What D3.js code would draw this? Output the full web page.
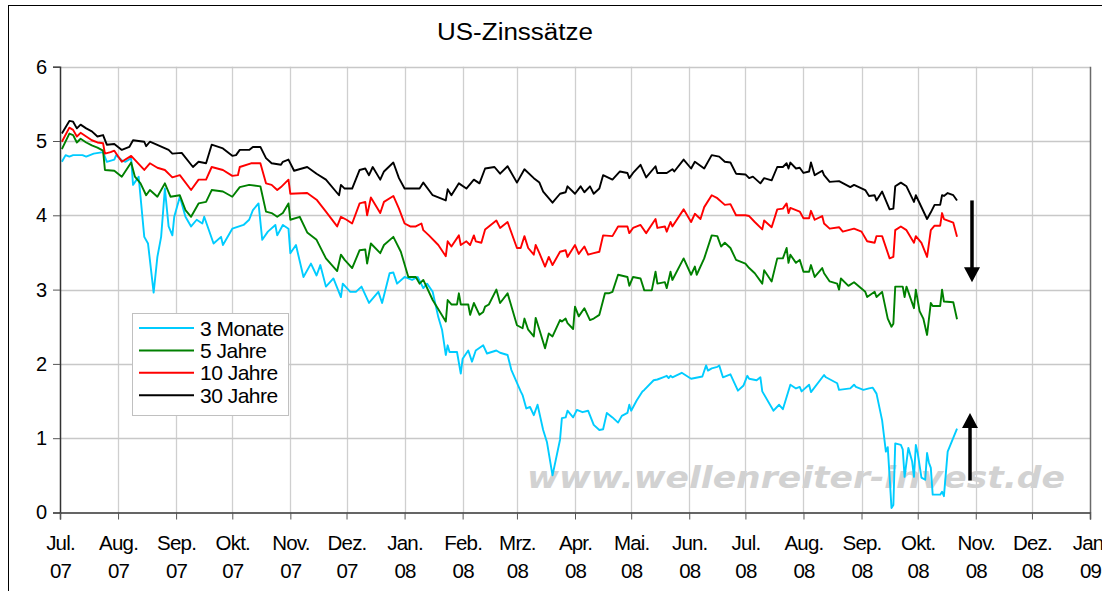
<!DOCTYPE html>
<html><head><meta charset="utf-8">
<script src="https://cdn.jsdelivr.net/npm/d3@7"></script>
<style>body{margin:0;background:#fff;overflow:hidden}</style>
</head><body>
<svg id="c" width="1102" height="591"></svg>
<script>
const titleText = "US-Zinssätze";
const seriesNames = ["3 Monate", "5 Jahre", "10 Jahre", "30 Jahre"];
const monthLabels = ["Jul.","Aug.","Sep.","Okt.","Nov.","Dez.","Jan.","Feb.","Mrz.","Apr.","Mai.","Jun.","Jul.","Aug.","Sep.","Okt.","Nov.","Dez.","Jan."];
const yearLabels = ["07","07","07","07","07","07","08","08","08","08","08","08","08","08","08","08","08","08","09"];
const yTickValues = [0,1,2,3,4,5,6];
const watermarkText = "www.wellenreiter-invest.de";

const m3 = [
["2007-07-02",4.72],["2007-07-04",4.81],["2007-07-06",4.79],["2007-07-08",4.81],["2007-07-13",4.81],["2007-07-15",4.79],["2007-07-19",4.83],["2007-07-24",4.85],["2007-07-26",4.72],["2007-07-30",4.75],["2007-07-31",4.81],["2007-08-03",4.74],["2007-08-05",4.72],["2007-08-08",4.77],["2007-08-09",4.41],["2007-08-12",4.52],["2007-08-15",3.71],["2007-08-17",3.62],["2007-08-20",2.96],["2007-08-22",3.44],["2007-08-24",3.71],["2007-08-26",4.36],["2007-08-28",3.85],["2007-08-30",3.73],["2007-08-31",3.98],["2007-09-03",4.25],["2007-09-06",3.98],["2007-09-09",3.85],["2007-09-12",3.94],["2007-09-15",3.89],["2007-09-16",3.98],["2007-09-21",3.62],["2007-09-25",3.71],["2007-09-26",3.60],["2007-10-01",3.82],["2007-10-07",3.87],["2007-10-10",3.94],["2007-10-12",4.07],["2007-10-15",4.16],["2007-10-17",3.67],["2007-10-20",3.78],["2007-10-24",3.87],["2007-10-25",3.73],["2007-10-28",3.87],["2007-10-31",3.82],["2007-11-01",3.49],["2007-11-04",3.60],["2007-11-08",3.17],["2007-11-12",3.35],["2007-11-15",3.19],["2007-11-17",3.33],["2007-11-20",3.04],["2007-11-24",3.15],["2007-11-28",2.90],["2007-11-29",3.08],["2007-12-03",2.97],["2007-12-06",2.97],["2007-12-09",3.04],["2007-12-13",2.82],["2007-12-18",2.97],["2007-12-20",2.82],["2007-12-24",3.22],["2007-12-26",3.23],["2007-12-28",3.08],["2008-01-01",3.17],["2008-01-05",3.13],["2008-01-08",3.17],["2008-01-11",3.02],["2008-01-13",3.08],["2008-01-16",2.97],["2008-01-19",2.63],["2008-01-21",2.46],["2008-01-23",2.12],["2008-01-24",2.25],["2008-01-25",2.16],["2008-01-29",2.16],["2008-01-31",1.87],["2008-02-01",2.07],["2008-02-04",2.18],["2008-02-06",2.03],["2008-02-08",2.18],["2008-02-12",2.25],["2008-02-14",2.14],["2008-02-19",2.18],["2008-02-21",2.15],["2008-02-25",2.12],["2008-02-27",1.92],["2008-03-03",1.63],["2008-03-04",1.58],["2008-03-06",1.40],["2008-03-08",1.42],["2008-03-10",1.31],["2008-03-12",1.45],["2008-03-15",1.11],["2008-03-17",0.95],["2008-03-20",0.50],["2008-03-24",0.98],["2008-03-25",1.27],["2008-03-27",1.28],["2008-03-28",1.37],["2008-03-31",1.28],["2008-04-02",1.38],["2008-04-05",1.35],["2008-04-08",1.37],["2008-04-11",1.18],["2008-04-14",1.11],["2008-04-16",1.12],["2008-04-18",1.34],["2008-04-21",1.28],["2008-04-24",1.21],["2008-04-26",1.30],["2008-04-29",1.34],["2008-04-30",1.45],["2008-05-01",1.37],["2008-05-04",1.51],["2008-05-07",1.63],["2008-05-08",1.65],["2008-05-13",1.78],["2008-05-15",1.79],["2008-05-18",1.82],["2008-05-20",1.84],["2008-05-21",1.81],["2008-05-22",1.84],["2008-05-23",1.82],["2008-05-28",1.88],["2008-06-02",1.80],["2008-06-08",1.83],["2008-06-10",1.98],["2008-06-11",1.91],["2008-06-13",1.94],["2008-06-16",1.96],["2008-06-17",1.98],["2008-06-19",1.82],["2008-06-23",1.86],["2008-06-27",1.64],["2008-06-30",1.71],["2008-07-02",1.84],["2008-07-03",1.80],["2008-07-07",1.78],["2008-07-09",1.82],["2008-07-10",1.63],["2008-07-16",1.37],["2008-07-19",1.45],["2008-07-21",1.39],["2008-07-25",1.72],["2008-07-28",1.67],["2008-07-30",1.69],["2008-07-31",1.63],["2008-08-04",1.72],["2008-08-05",1.62],["2008-08-12",1.85],["2008-08-13",1.82],["2008-08-19",1.74],["2008-08-20",1.65],["2008-08-26",1.67],["2008-08-28",1.72],["2008-08-29",1.69],["2008-09-02",1.65],["2008-09-05",1.67],["2008-09-07",1.68],["2008-09-09",1.60],["2008-09-12",1.24],["2008-09-14",0.82],["2008-09-15",0.88],["2008-09-16",0.48],["2008-09-17",0.06],["2008-09-18",0.10],["2008-09-19",0.93],["2008-09-22",0.91],["2008-09-23",0.85],["2008-09-24",0.48],["2008-09-26",0.87],["2008-09-28",0.69],["2008-09-29",0.48],["2008-09-30",0.91],["2008-10-01",0.80],["2008-10-03",0.47],["2008-10-05",0.44],["2008-10-06",0.80],["2008-10-07",0.67],["2008-10-08",0.60],["2008-10-09",0.24],["2008-10-13",0.24],["2008-10-14",0.28],["2008-10-15",0.22],["2008-10-17",0.82],["2008-10-22",1.13]
];

const y5 = [
["2007-07-02",4.89],["2007-07-06",5.10],["2007-07-08",5.08],["2007-07-10",4.98],["2007-07-12",5.03],["2007-07-15",4.98],["2007-07-18",4.94],["2007-07-21",4.91],["2007-07-24",4.87],["2007-07-25",4.61],["2007-07-30",4.60],["2007-08-03",4.52],["2007-08-08",4.71],["2007-08-10",4.52],["2007-08-13",4.43],["2007-08-16",4.27],["2007-08-18",4.34],["2007-08-22",4.25],["2007-08-26",4.43],["2007-08-29",4.25],["2007-09-03",4.27],["2007-09-06",4.07],["2007-09-09",3.98],["2007-09-13",4.16],["2007-09-17",4.18],["2007-09-20",4.34],["2007-09-26",4.32],["2007-10-01",4.25],["2007-10-05",4.38],["2007-10-10",4.41],["2007-10-16",4.39],["2007-10-19",4.05],["2007-10-22",4.03],["2007-10-25",3.98],["2007-10-28",4.03],["2007-10-31",4.16],["2007-11-01",3.94],["2007-11-06",3.98],["2007-11-10",3.77],["2007-11-15",3.67],["2007-11-20",3.42],["2007-11-26",3.25],["2007-11-28",3.47],["2007-11-30",3.40],["2007-12-04",3.29],["2007-12-08",3.53],["2007-12-11",3.54],["2007-12-12",3.35],["2007-12-14",3.62],["2007-12-19",3.49],["2007-12-21",3.60],["2007-12-26",3.71],["2007-12-30",3.51],["2008-01-03",3.17],["2008-01-07",3.17],["2008-01-09",3.08],["2008-01-11",3.13],["2008-01-16",2.86],["2008-01-23",2.57],["2008-01-24",2.86],["2008-01-26",2.80],["2008-01-29",2.80],["2008-01-30",2.95],["2008-01-31",2.80],["2008-02-04",2.80],["2008-02-05",2.66],["2008-02-07",2.82],["2008-02-10",2.66],["2008-02-12",2.70],["2008-02-13",2.77],["2008-02-15",2.80],["2008-02-19",3.00],["2008-02-21",2.82],["2008-02-25",2.95],["2008-03-01",2.52],["2008-03-04",2.48],["2008-03-05",2.61],["2008-03-07",2.46],["2008-03-10",2.37],["2008-03-11",2.62],["2008-03-13",2.46],["2008-03-16",2.21],["2008-03-18",2.41],["2008-03-20",2.37],["2008-03-24",2.59],["2008-03-25",2.57],["2008-03-27",2.61],["2008-03-28",2.55],["2008-03-31",2.47],["2008-04-01",2.77],["2008-04-03",2.64],["2008-04-06",2.75],["2008-04-09",2.59],["2008-04-11",2.61],["2008-04-14",2.66],["2008-04-17",2.95],["2008-04-19",2.95],["2008-04-21",2.97],["2008-04-24",3.20],["2008-04-29",3.17],["2008-04-30",3.05],["2008-05-02",3.17],["2008-05-06",3.15],["2008-05-08",2.99],["2008-05-12",2.99],["2008-05-14",3.24],["2008-05-15",3.08],["2008-05-19",3.10],["2008-05-20",3.02],["2008-05-22",3.24],["2008-05-23",3.13],["2008-05-29",3.42],["2008-06-02",3.20],["2008-06-04",3.31],["2008-06-05",3.20],["2008-06-09",3.42],["2008-06-13",3.73],["2008-06-16",3.72],["2008-06-18",3.58],["2008-06-20",3.63],["2008-06-23",3.56],["2008-06-26",3.40],["2008-07-01",3.35],["2008-07-03",3.29],["2008-07-06",3.22],["2008-07-10",3.08],["2008-07-11",3.26],["2008-07-15",3.11],["2008-07-18",3.42],["2008-07-21",3.42],["2008-07-23",3.56],["2008-07-24",3.36],["2008-07-25",3.47],["2008-07-28",3.36],["2008-07-30",3.40],["2008-08-01",3.24],["2008-08-04",3.24],["2008-08-05",3.33],["2008-08-07",3.17],["2008-08-11",3.29],["2008-08-12",3.22],["2008-08-15",3.11],["2008-08-19",3.08],["2008-08-20",3.00],["2008-08-21",3.15],["2008-08-25",3.05],["2008-08-28",3.10],["2008-09-03",2.97],["2008-09-04",2.90],["2008-09-08",2.97],["2008-09-09",2.90],["2008-09-12",2.97],["2008-09-15",2.61],["2008-09-17",2.50],["2008-09-18",2.54],["2008-09-19",3.04],["2008-09-23",3.04],["2008-09-24",2.90],["2008-09-25",3.04],["2008-09-29",2.75],["2008-09-30",3.00],["2008-10-02",2.71],["2008-10-04",2.61],["2008-10-06",2.39],["2008-10-08",2.82],["2008-10-09",2.78],["2008-10-13",2.78],["2008-10-14",3.00],["2008-10-15",2.84],["2008-10-20",2.83],["2008-10-22",2.60]
];

const y10 = [
["2007-07-02",4.99],["2007-07-06",5.18],["2007-07-08",5.15],["2007-07-10",5.06],["2007-07-12",5.11],["2007-07-15",5.06],["2007-07-18",5.01],["2007-07-21",4.98],["2007-07-24",4.97],["2007-07-25",4.83],["2007-07-28",4.85],["2007-07-30",4.87],["2007-08-03",4.72],["2007-08-08",4.80],["2007-08-15",4.61],["2007-08-18",4.70],["2007-08-22",4.64],["2007-08-26",4.61],["2007-08-30",4.51],["2007-09-03",4.54],["2007-09-09",4.34],["2007-09-13",4.48],["2007-09-17",4.48],["2007-09-20",4.65],["2007-09-26",4.61],["2007-10-01",4.53],["2007-10-04",4.54],["2007-10-05",4.65],["2007-10-11",4.70],["2007-10-16",4.70],["2007-10-19",4.43],["2007-10-22",4.41],["2007-10-25",4.34],["2007-10-27",4.38],["2007-10-31",4.48],["2007-11-01",4.29],["2007-11-10",4.30],["2007-11-15",4.21],["2007-11-20",4.05],["2007-11-26",3.85],["2007-11-28",3.98],["2007-12-01",3.94],["2007-12-04",3.89],["2007-12-08",4.16],["2007-12-11",4.18],["2007-12-12",4.00],["2007-12-14",4.24],["2007-12-19",4.03],["2007-12-21",4.18],["2007-12-26",4.26],["2007-12-29",4.09],["2008-01-01",3.89],["2008-01-04",3.85],["2008-01-07",3.85],["2008-01-10",3.89],["2008-01-11",3.80],["2008-01-14",3.73],["2008-01-19",3.60],["2008-01-23",3.45],["2008-01-24",3.65],["2008-01-26",3.58],["2008-01-30",3.73],["2008-01-31",3.60],["2008-02-03",3.65],["2008-02-05",3.60],["2008-02-07",3.73],["2008-02-08",3.65],["2008-02-11",3.63],["2008-02-13",3.81],["2008-02-19",3.93],["2008-02-21",3.83],["2008-02-25",3.91],["2008-03-01",3.56],["2008-03-03",3.56],["2008-03-05",3.72],["2008-03-07",3.56],["2008-03-10",3.47],["2008-03-11",3.60],["2008-03-13",3.49],["2008-03-16",3.31],["2008-03-18",3.44],["2008-03-20",3.33],["2008-03-24",3.51],["2008-03-27",3.53],["2008-03-28",3.44],["2008-04-01",3.60],["2008-04-03",3.48],["2008-04-06",3.58],["2008-04-08",3.47],["2008-04-11",3.49],["2008-04-14",3.51],["2008-04-16",3.73],["2008-04-21",3.72],["2008-04-24",3.85],["2008-04-29",3.85],["2008-04-30",3.76],["2008-05-02",3.83],["2008-05-06",3.87],["2008-05-09",3.76],["2008-05-14",3.95],["2008-05-15",3.83],["2008-05-19",3.85],["2008-05-20",3.78],["2008-05-22",3.91],["2008-05-23",3.85],["2008-05-29",4.08],["2008-06-02",3.91],["2008-06-04",4.02],["2008-06-07",3.95],["2008-06-09",4.11],["2008-06-13",4.27],["2008-06-16",4.23],["2008-06-20",4.14],["2008-06-23",4.15],["2008-06-26",4.00],["2008-07-01",4.00],["2008-07-03",3.99],["2008-07-06",3.91],["2008-07-10",3.81],["2008-07-11",3.93],["2008-07-15",3.84],["2008-07-18",4.08],["2008-07-21",4.09],["2008-07-23",4.16],["2008-07-24",4.03],["2008-07-25",4.10],["2008-07-30",4.05],["2008-08-01",3.96],["2008-08-04",3.96],["2008-08-05",4.06],["2008-08-07",3.94],["2008-08-11",3.99],["2008-08-12",3.89],["2008-08-15",3.82],["2008-08-20",3.84],["2008-08-22",3.78],["2008-08-28",3.82],["2008-09-01",3.78],["2008-09-04",3.65],["2008-09-08",3.63],["2008-09-09",3.72],["2008-09-12",3.72],["2008-09-16",3.42],["2008-09-18",3.44],["2008-09-19",3.80],["2008-09-22",3.85],["2008-09-25",3.80],["2008-09-29",3.63],["2008-09-30",3.72],["2008-10-03",3.63],["2008-10-06",3.44],["2008-10-08",3.80],["2008-10-10",3.86],["2008-10-13",3.86],["2008-10-14",4.03],["2008-10-15",3.95],["2008-10-20",3.90],["2008-10-22",3.71]
];

const y30 = [
["2007-07-02",5.10],["2007-07-06",5.27],["2007-07-08",5.26],["2007-07-10",5.17],["2007-07-12",5.22],["2007-07-15",5.17],["2007-07-18",5.13],["2007-07-21",5.06],["2007-07-24",5.08],["2007-07-26",4.95],["2007-07-30",4.96],["2007-08-03",4.88],["2007-08-07",4.92],["2007-08-09",5.01],["2007-08-15",4.99],["2007-08-16",4.93],["2007-08-18",4.99],["2007-08-28",4.88],["2007-08-30",4.83],["2007-09-04",4.84],["2007-09-10",4.65],["2007-09-13",4.72],["2007-09-17",4.70],["2007-09-20",4.95],["2007-09-26",4.90],["2007-10-01",4.80],["2007-10-03",4.81],["2007-10-05",4.88],["2007-10-10",4.88],["2007-10-12",4.92],["2007-10-16",4.92],["2007-10-19",4.77],["2007-10-22",4.70],["2007-10-27",4.68],["2007-10-28",4.72],["2007-10-31",4.75],["2007-11-03",4.60],["2007-11-10",4.65],["2007-11-15",4.56],["2007-11-20",4.48],["2007-11-27",4.27],["2007-11-28",4.41],["2007-11-30",4.36],["2007-12-04",4.36],["2007-12-08",4.61],["2007-12-11",4.63],["2007-12-13",4.54],["2007-12-15",4.65],["2007-12-19",4.48],["2007-12-21",4.59],["2007-12-26",4.71],["2007-12-29",4.50],["2008-01-01",4.36],["2008-01-09",4.36],["2008-01-11",4.44],["2008-01-16",4.27],["2008-01-23",4.20],["2008-01-24",4.35],["2008-01-26",4.27],["2008-01-30",4.43],["2008-02-03",4.36],["2008-02-07",4.48],["2008-02-10",4.43],["2008-02-13",4.63],["2008-02-18",4.65],["2008-02-21",4.56],["2008-02-25",4.66],["2008-03-01",4.44],["2008-03-05",4.62],["2008-03-10",4.50],["2008-03-13",4.44],["2008-03-15",4.32],["2008-03-20",4.17],["2008-03-24",4.29],["2008-03-27",4.31],["2008-03-28",4.39],["2008-04-01",4.29],["2008-04-04",4.39],["2008-04-06",4.31],["2008-04-09",4.39],["2008-04-11",4.29],["2008-04-14",4.36],["2008-04-16",4.54],["2008-04-21",4.48],["2008-04-25",4.59],["2008-04-29",4.57],["2008-04-30",4.50],["2008-05-02",4.57],["2008-05-06",4.68],["2008-05-09",4.51],["2008-05-14",4.66],["2008-05-15",4.57],["2008-05-20",4.57],["2008-05-23",4.62],["2008-05-24",4.59],["2008-05-29",4.75],["2008-06-02",4.63],["2008-06-04",4.72],["2008-06-09",4.63],["2008-06-13",4.81],["2008-06-17",4.79],["2008-06-20",4.72],["2008-06-23",4.71],["2008-06-26",4.56],["2008-07-01",4.55],["2008-07-03",4.50],["2008-07-05",4.52],["2008-07-09",4.43],["2008-07-11",4.50],["2008-07-15",4.47],["2008-07-18",4.65],["2008-07-21",4.65],["2008-07-23",4.70],["2008-07-24",4.63],["2008-07-25",4.71],["2008-07-28",4.63],["2008-07-30",4.64],["2008-08-01",4.57],["2008-08-04",4.59],["2008-08-05",4.71],["2008-08-07",4.54],["2008-08-11",4.60],["2008-08-12",4.54],["2008-08-15",4.45],["2008-08-20",4.46],["2008-08-26",4.38],["2008-08-28",4.41],["2008-09-03",4.34],["2008-09-05",4.26],["2008-09-08",4.27],["2008-09-09",4.20],["2008-09-12",4.32],["2008-09-16",4.08],["2008-09-18",4.09],["2008-09-19",4.39],["2008-09-22",4.44],["2008-09-25",4.39],["2008-09-29",4.18],["2008-09-30",4.27],["2008-10-06",3.95],["2008-10-08",4.04],["2008-10-10",4.14],["2008-10-13",4.14],["2008-10-14",4.27],["2008-10-15",4.26],["2008-10-17",4.30],["2008-10-20",4.27],["2008-10-22",4.20]
];

const seriesData = [m3, y5, y10, y30];
const seriesColors = ["#00ccff", "#008000", "#ff0000", "#000000"];
// arrows: [date, from value, to value]
const arrowDown = ["2008-10-30", 4.2, 3.1];
const arrowUp = ["2008-10-29", 0.43, 1.34];

const parse = d3.timeParse("%Y-%m-%d");
const svg = d3.select("#c");
const font = "'Liberation Sans', Arial, sans-serif";

// outer frame
svg.append("rect").attr("x",8.5).attr("y",5.5).attr("width",1200).attr("height",700)
  .attr("fill","none").attr("stroke","#000").attr("stroke-width",1);

const x = d3.scaleTime().domain([new Date(2007,6,1), new Date(2009,0,1)]).range([60, 1090]);
const y = d3.scaleLinear().domain([0,6]).range([512.5, 66.7]);
const months = d3.timeMonth.range(new Date(2007,6,1), new Date(2009,0,2));

// gridlines
const grid = svg.append("g");
grid.selectAll("line.v").data(months.slice(1, -1)).join("line")
  .attr("x1", d => Math.round(x(d))+0.5).attr("x2", d => Math.round(x(d))+0.5)
  .attr("y1", y(6)).attr("y2", y(0))
  .attr("stroke","#cfcfcf").attr("stroke-width",1.3);
grid.selectAll("line.h").data(yTickValues.slice(1)).join("line")
  .attr("x1", x.range()[0]).attr("x2", x.range()[1])
  .attr("y1", d => Math.round(y(d))+0.5).attr("y2", d => Math.round(y(d))+0.5)
  .attr("stroke","#c8c8c8").attr("stroke-width",1.3);

// right border of plot
svg.append("line").attr("x1",1090.5).attr("x2",1090.5).attr("y1",y(6)).attr("y2",y(0))
  .attr("stroke","#6a6a6a").attr("stroke-width",1.5);

// watermark
svg.append("text").attr("x",527).attr("y",488)
  .attr("font-family","'DejaVu Sans', Verdana, sans-serif").attr("font-style","italic")
  .attr("font-weight","bold")
  .attr("font-size",30).attr("fill","#d2d2d2")
  .attr("textLength",538).attr("lengthAdjust","spacingAndGlyphs")
  .text(watermarkText);

// legend
const lg = svg.append("g");
lg.append("rect").attr("x",132.5).attr("y",313.5).attr("width",156).attr("height",102)
  .attr("fill","#fff").attr("stroke","#c0c0c0").attr("stroke-width",1);
seriesNames.forEach((n,i) => {
  const cy = 328 + i*22.4;
  lg.append("line").attr("x1",139).attr("x2",194).attr("y1",cy).attr("y2",cy)
    .attr("stroke",seriesColors[i]).attr("stroke-width",2);
  lg.append("text").attr("x",200).attr("y",cy+7.5).attr("font-family",font)
    .attr("font-size",21).attr("letter-spacing",-0.5).attr("fill","#000").text(n);
});

// series
const line = d3.line().x(d => x(parse(d[0]))).y(d => y(d[1]));
seriesData.forEach((s,i) => {
  svg.append("path").datum(s).attr("d", line).attr("fill","none")
    .attr("stroke", seriesColors[i]).attr("stroke-width",1.9).attr("stroke-linejoin","round");
});

// axes
const yAxis = svg.append("g").attr("transform","translate(60,0)")
  .call(d3.axisLeft(y).tickValues(yTickValues).tickSize(7).tickFormat(d3.format("d")));
yAxis.select(".domain").attr("stroke","#333").attr("stroke-width",1.5);
yAxis.selectAll(".tick line").attr("stroke","#555");
yAxis.selectAll(".tick text").attr("font-family",font).attr("font-size",20)
  .attr("fill","#000").attr("x",-13);

const xAxis = svg.append("g").attr("transform",`translate(0,${y(0)})`)
  .call(d3.axisBottom(x).tickValues(months).tickSize(7).tickFormat(""));
xAxis.select(".domain").attr("stroke","#333").attr("stroke-width",1.5);
xAxis.selectAll(".tick line").attr("stroke","#555");
xAxis.selectAll(".tick").each(function(d,i){
  const t = d3.select(this).append("text").attr("font-family",font).attr("font-size",20.5)
    .attr("letter-spacing",-0.8).attr("fill","#000").attr("text-anchor","middle");
  t.append("tspan").attr("x",0).attr("y",37).text(monthLabels[i]);
  t.append("tspan").attr("x",0).attr("y",65).text(yearLabels[i]);
});

// title
svg.append("text").attr("x",437).attr("y",39.5)
  .attr("font-family",font).attr("font-size",23.5).attr("fill","#000")
  .attr("textLength",156).attr("lengthAdjust","spacingAndGlyphs")
  .text(titleText);

// arrows
function arrow(a){
  const xp = Math.round(x(parse(a[0])));
  const y1 = y(a[1]), y2 = y(a[2]);
  const dir = y2 > y1 ? 1 : -1;
  const headLen = 15, headW = 8;
  svg.append("line").attr("x1",xp).attr("x2",xp).attr("y1",y1).attr("y2",y2 - dir*headLen + dir*1)
    .attr("stroke","#000").attr("stroke-width",3.5);
  svg.append("path").attr("d",`M${xp-headW},${y2-dir*headLen}L${xp+headW},${y2-dir*headLen}L${xp},${y2}Z`)
    .attr("fill","#000");
}
arrow(arrowDown);
arrow(arrowUp);
</script>
</body></html>
